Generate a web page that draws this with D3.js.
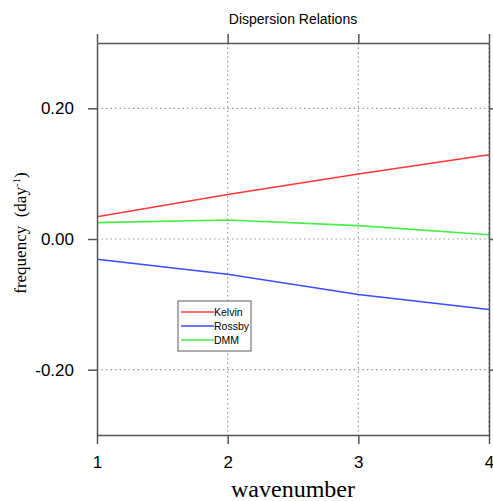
<!DOCTYPE html>
<html>
<head>
<meta charset="utf-8">
<script src="https://cdn.jsdelivr.net/npm/d3@7"></script>
<style>
  body { margin: 0; background: #fff; }
  svg { display: block; }
</style>
</head>
<body>
<script>
// wavenumbers and the three dispersion curves (frequency, day^-1)
var wavenumber = [1, 2, 3, 4];
var kelvin = [0.034, 0.068, 0.0995, 0.129];
var rossby = [-0.031, -0.054, -0.085, -0.108];
var dmm = [0.025, 0.029, 0.0205, 0.0066];

var seriesNames = ["Kelvin", "Rossby", "DMM"];
var seriesColors = ["#ff3838", "#3a4cff", "#45ee45"];

var xTicks = [1, 2, 3, 4];
var yTicks = [-0.2, 0, 0.2];

var width = 493, height = 501;
var margin = {top: 43, right: 4, bottom: 66, left: 97};
var w = width - margin.left - margin.right,
    h = height - margin.top - margin.bottom;

var svg = d3.select("body").append("svg")
    .attr("width", width)
    .attr("height", height);

var g = svg.append("g")
    .attr("transform", "translate(" + margin.left + "," + margin.top + ")");

var x = d3.scaleLinear().domain([1, 4]).range([0, w]);
var y = d3.scaleLinear().domain([-0.3, 0.3]).range([h, 0]);

// dotted grid
g.selectAll(".gx").data(xTicks.slice(1)).enter().append("line")
    .attr("x1", d => x(d)).attr("x2", d => x(d))
    .attr("y1", 0).attr("y2", h)
    .attr("stroke", "#999").attr("stroke-width", 1.2)
    .attr("stroke-dasharray", "1.5,3");
g.selectAll(".gy").data(yTicks).enter().append("line")
    .attr("x1", 0).attr("x2", w)
    .attr("y1", d => y(d)).attr("y2", d => y(d))
    .attr("stroke", "#999").attr("stroke-width", 1.2)
    .attr("stroke-dasharray", "1.5,3");

// curves
var line = d3.line()
    .x(function(d, i) { return x(wavenumber[i]); })
    .y(function(d) { return y(d); });

[kelvin, rossby, dmm].forEach(function(s, i) {
  g.append("path")
      .attr("d", line(s))
      .attr("fill", "none")
      .attr("stroke", seriesColors[i])
      .attr("stroke-width", 1.6);
});

// axes on all four sides, ticks outward
function styleAxis(sel) {
  sel.selectAll("path, line").attr("stroke", "#555").attr("stroke-width", 1.5);
  sel.selectAll("text").attr("fill", "#000")
      .style("font-family", "Liberation Sans, Arial, sans-serif")
      .style("font-size", "17px");
}

g.append("g").attr("transform", "translate(0," + h + ")")
    .call(d3.axisBottom(x).tickValues(xTicks).tickFormat(d3.format("d"))
      .tickSize(9).tickSizeOuter(0).tickPadding(12))
    .call(styleAxis);
g.append("g")
    .call(d3.axisTop(x).tickValues(xTicks).tickFormat("")
      .tickSize(9).tickSizeOuter(0))
    .call(styleAxis);
g.append("g")
    .call(d3.axisLeft(y).tickValues(yTicks).tickFormat(d3.format(".2f"))
      .tickSize(9).tickSizeOuter(0).tickPadding(14))
    .call(styleAxis);
g.append("g").attr("transform", "translate(" + w + ",0)")
    .call(d3.axisRight(y).tickValues(yTicks).tickFormat("")
      .tickSize(4).tickSizeOuter(0))
    .call(styleAxis);

// minus sign as plain hyphen like the original
g.selectAll("text").each(function() {
  var t = d3.select(this);
  t.text(t.text().replace("\u2212", "-"));
});

// title
svg.append("text")
    .attr("x", margin.left + w / 2).attr("y", 24)
    .attr("text-anchor", "middle")
    .style("font-family", "Liberation Sans, Arial, sans-serif")
    .style("font-size", "14px")
    .text("Dispersion Relations");

// axis titles
svg.append("text")
    .attr("x", margin.left + w / 2).attr("y", 497)
    .attr("text-anchor", "middle")
    .style("font-family", "Liberation Serif, Times New Roman, serif")
    .style("font-size", "24px")
    .text("wavenumber");

var yl = svg.append("text")
    .attr("transform", "translate(26,233) rotate(-90)")
    .attr("text-anchor", "middle")
    .style("font-family", "Liberation Serif, Times New Roman, serif")
    .style("font-size", "17px")
    .attr("xml:space", "preserve");
yl.append("tspan").text("frequency  (day");
yl.append("tspan").attr("dy", -6).style("font-size", "11px").text("-1");
yl.append("tspan").attr("dy", 6).text(")");

// legend
var lg = svg.append("g").attr("transform", "translate(178,301)");
lg.append("rect")
    .attr("width", 73).attr("height", 50)
    .attr("fill", "#fff").attr("stroke", "#777").attr("stroke-width", 1.2);
seriesNames.forEach(function(name, i) {
  var yy = 11 + i * 14;
  lg.append("line")
      .attr("x1", 3).attr("x2", 36)
      .attr("y1", yy).attr("y2", yy)
      .attr("stroke", seriesColors[i]).attr("stroke-width", 1.4);
  lg.append("text")
      .attr("x", 36).attr("y", yy + 4)
      .style("font-family", "Liberation Sans, Arial, sans-serif")
      .style("font-size", "10.5px")
      .text(name);
});
</script>
</body>
</html>
